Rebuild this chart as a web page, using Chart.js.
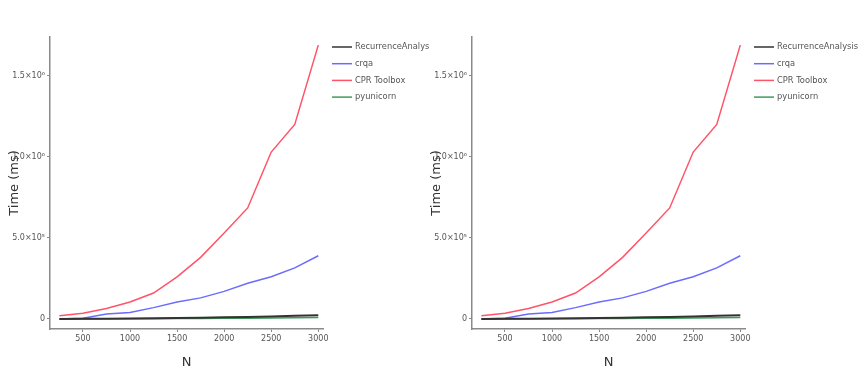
<!DOCTYPE html>
<html>
<head>
<meta charset="utf-8">
<script src="https://cdn.jsdelivr.net/npm/chart.js@4/dist/chart.umd.min.js"></script>
<style>
  html, body { margin: 0; padding: 0; background: #fff; }
  body { width: 860px; height: 371px; position: relative; overflow: hidden; }
  .panel { position: absolute; top: 0; height: 371px; }
</style>
</head>
<body>
<div class="panel" style="left:0;width:430px"><canvas id="left"></canvas></div>
<div class="panel" style="left:422px;width:438px"><canvas id="right"></canvas></div>
<script>
// benchmark sizes
const sizes = [250, 500, 750, 1000, 1250, 1500, 1750, 2000, 2250, 2500, 2750, 3000];

// times in ms
const recurrenceAnalysis = [300, 800, 1500, 2500, 3800, 5500, 7500, 9800, 12500, 15500, 19000, 23000];
const crqa = [0, 5000, 30000, 40000, 70000, 105000, 130000, 170000, 220000, 260000, 315000, 390000];
const cprToolbox = [20000, 35000, 65000, 105000, 160000, 260000, 380000, 530000, 685000, 1030000, 1200000, 1690000];
const pyunicorn = [100, 300, 600, 1000, 1500, 2100, 2800, 3700, 4700, 5800, 7000, 8500];

const xTicks = [500, 1000, 1500, 2000, 2500, 3000];
const yTicks = [0, 500000, 1000000, 1500000];
const yTickLabels = ['0', '5.0×10⁵', '1.0×10⁶', '1.5×10⁶'];

const seriesNames = ['RecurrenceAnalysis', 'crqa', 'CPR Toolbox', 'pyunicorn'];
const seriesValues = [recurrenceAnalysis, crqa, cprToolbox, pyunicorn];
const seriesColors = ['#333333', '#6b6bff', '#ff5468', '#3f9a5c'];

const axisGray = '#8a8a8a';

// legend drawn beside the plot area
const sideLegend = {
  id: 'sideLegend',
  afterDraw(chart) {
    const ctx = chart.ctx;
    const a = chart.chartArea;
    ctx.save();
    ctx.font = '8.3px "DejaVu Sans", sans-serif';
    ctx.textBaseline = 'middle';
    seriesNames.forEach((name, i) => {
      const y = a.top + 10 + i * 16.7;
      ctx.strokeStyle = seriesColors[i];
      ctx.lineWidth = 1.5;
      ctx.beginPath();
      ctx.moveTo(a.right + 9, y);
      ctx.lineTo(a.right + 29, y);
      ctx.stroke();
      ctx.fillStyle = '#555';
      ctx.fillText(name, a.right + 32, y);
    });
    ctx.restore();
  }
};

function makeChart(id, rightPad) {
  // first dataset ends up on top
  const datasets = seriesNames.map((name, i) => ({
    label: name,
    data: sizes.map((n, k) => ({ x: n, y: seriesValues[i][k] })),
    borderColor: seriesColors[i],
    backgroundColor: seriesColors[i],
    borderWidth: i === 0 ? 2 : 1.5,
    pointRadius: 0,
    tension: 0,
    fill: false
  }));
  return new Chart(document.getElementById(id), {
    type: 'line',
    data: { datasets },
    plugins: [sideLegend],
    options: {
      responsive: true,
      maintainAspectRatio: false,
      animation: false,
      layout: { padding: { left: 0, top: 37, right: rightPad, bottom: 0 } },
      plugins: { legend: { display: false }, tooltip: { enabled: false } },
      scales: {
        x: {
          type: 'linear',
          min: 150,
          max: 3050,
          afterBuildTicks: s => { s.ticks = xTicks.map(v => ({ value: v })); },
          afterFit: s => { s.height = 42; },
          border: { color: axisGray, width: 1.5 },
          grid: { drawOnChartArea: false, tickLength: 3, color: axisGray },
          ticks: {
            color: '#555',
            font: { size: 8, family: '"DejaVu Sans", sans-serif' },
            padding: 2,
            maxRotation: 0,
            callback: v => String(v)
          },
          title: { display: true, text: 'N', color: '#333', font: { size: 13, family: '"DejaVu Sans", sans-serif' }, padding: { top: 0, bottom: 1 } }
        },
        y: {
          min: -62000,
          max: 1740000,
          afterBuildTicks: s => { s.ticks = yTicks.map(v => ({ value: v })); },
          afterFit: s => { s.width = 50; },
          border: { color: axisGray, width: 1.5 },
          grid: { drawOnChartArea: false, tickLength: 3, color: axisGray },
          ticks: {
            color: '#555',
            font: { size: 8, family: '"DejaVu Sans", sans-serif' },
            padding: 2,
            callback: v => yTickLabels[yTicks.indexOf(v)]
          },
          title: { display: true, text: 'Time (ms)', color: '#333', font: { size: 13, family: '"DejaVu Sans", sans-serif' }, padding: { top: 7, bottom: 0 } }
        }
      }
    }
  });
}

makeChart('left', 107);
makeChart('right', 115);
</script>
</body>
</html>
